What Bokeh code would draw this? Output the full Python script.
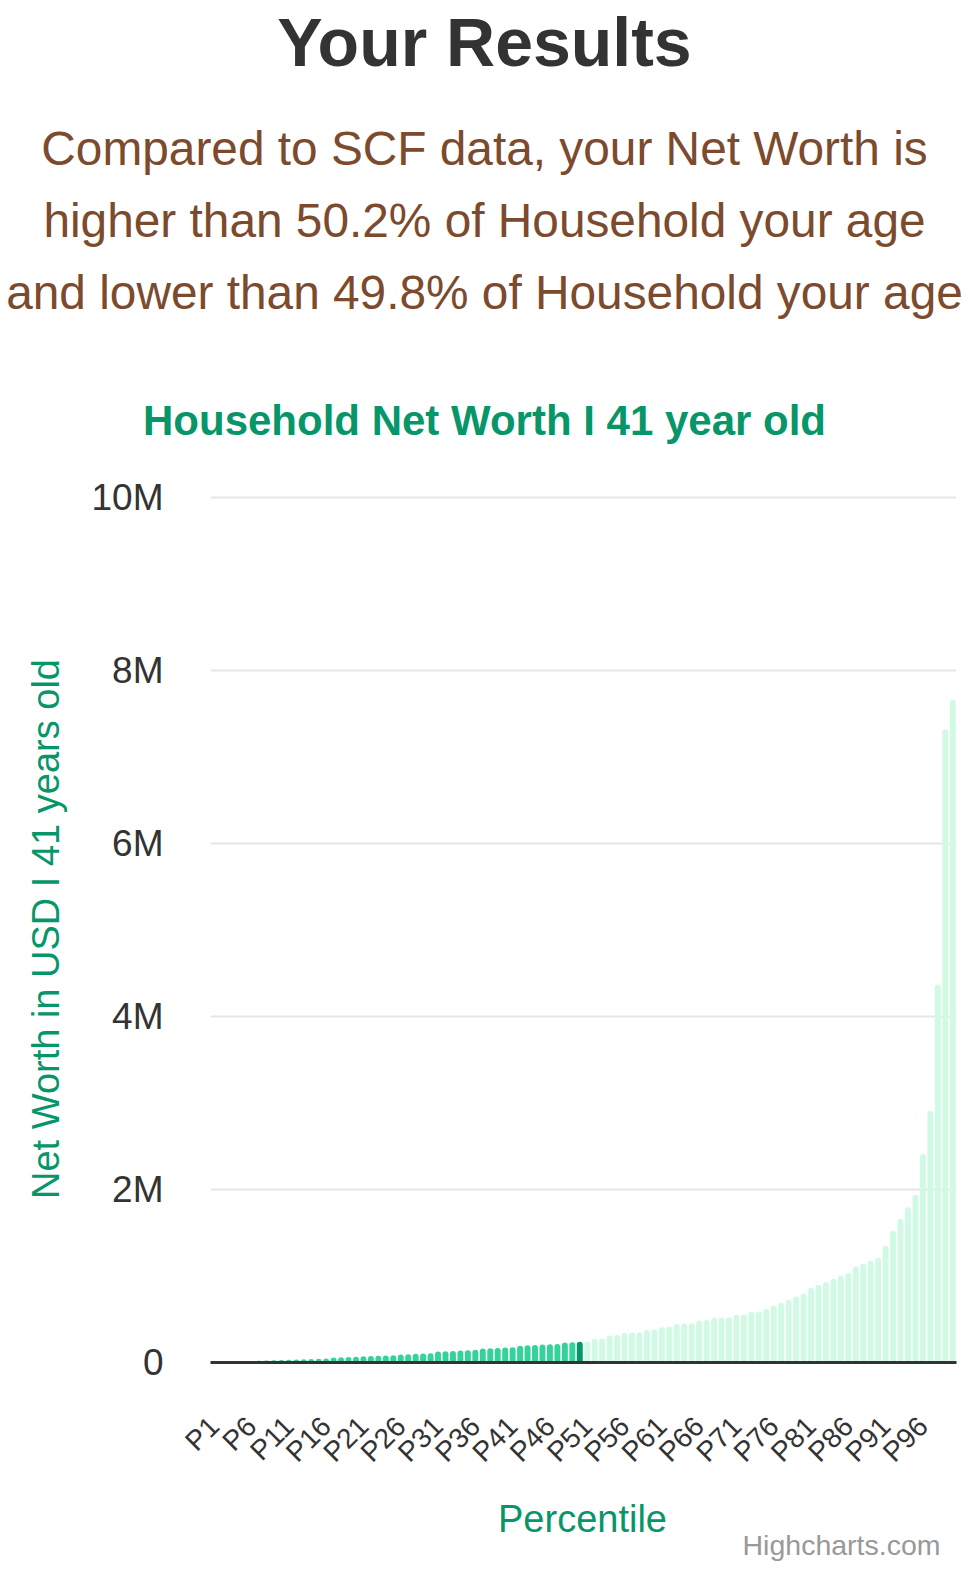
import math

from bokeh.embed import file_html
from bokeh.models import ColumnDataSource, FixedTicker, Label, Range1d
from bokeh.plotting import figure
from bokeh.resources import INLINE

# percentile categories and household net worth (USD) for a 41 year old
percentiles = ["P%d" % i for i in range(1, 101)]
net_worth = [
    0, 0, 0, 0, 0, 0,
    20000, 24000, 27000, 30000, 33000, 36000, 38000, 41000, 44000, 47000,
    58000, 61000, 64000, 67000, 71000, 75000, 78000, 82000, 85000,
    93000, 96000, 100000, 104000, 108000,
    126000, 130000, 134000, 138000, 142000, 146000,
    161000, 165000, 169000, 173000, 177000,
    195000, 199000, 203000, 207000, 211000, 215000,
    230000, 235000, 240000,
    245000, 272000, 277000, 312000, 318000, 343000, 347000, 350000, 378000, 382000,
    408000, 416000, 447000, 450000, 455000, 486000, 490000, 516000, 520000, 524000,
    551000, 555000, 586000, 590000, 621000, 655000, 690000, 724000, 763000, 794000,
    863000, 898000, 932000, 967000, 1002000, 1037000, 1106000, 1141000, 1175000, 1210000,
    1349000, 1522000, 1661000, 1796000, 1938000, 2410000, 2910000, 4370000, 7320000, 7660000,
]
user_percentile = 50
y_ticks = [0, 2000000, 4000000, 6000000, 8000000, 10000000]
y_tick_labels = ["0", "2M", "4M", "6M", "8M", "10M"]
label_every = 5

heading = "Your Results"
sub_lines = ["Compared to SCF data, your Net Worth is",
             "higher than 50.2% of Household your age",
             "and lower than 49.8% of Household your age"]
chart_title = "Household Net Worth I 41 year old"

FONT = "Liberation Sans"
GREEN = "#079669"
BROWN = "#7c4a2d"
W = 975


def blank(height, top):
    # plain canvas whose data coordinates are page pixels (y downwards)
    f = figure(width=W, height=height, x_range=Range1d(0, W), y_range=Range1d(top + height, top),
               x_axis_type=None, y_axis_type=None, output_backend="svg", toolbar_location=None,
               min_border=0)
    f.outline_line_color = None
    f.grid.grid_line_color = None
    return f


def text(fig, x, y, s, size, color, align="center", bold=False):
    fig.add_layout(Label(x=x, y=y, text=s, text_align=align, text_baseline="alphabetic",
                         text_font=FONT, text_font_size=size, text_color=color,
                         text_font_style="bold" if bold else "normal"))


# ---- headings
head = blank(470, 0)
text(head, 484, 41, heading, "68px", "#333333", bold=True)
for i, line in enumerate(sub_lines):
    text(head, 484, 148 + 72 * i, line, "47.8px", BROWN)
text(head, 484, 420, chart_title, "42px", GREEN, bold=True)

# ---- chart
x = list(range(1, len(percentiles) + 1))
colors = []
for i in x:
    if i < user_percentile:
        colors.append("#34d399")
    elif i == user_percentile:
        colors.append("#059669")
    else:
        colors.append("#d1fae5")

source = ColumnDataSource(data=dict(x=x, top=net_worth, label=percentiles, color=colors))

p = figure(frame_width=746, frame_height=867, output_backend="svg", toolbar_location=None,
           x_range=Range1d(0.5, len(percentiles) + 0.5), y_range=Range1d(0, 10023000),
           min_border_left=210, min_border_right=19, min_border_top=25, min_border_bottom=118)
p.outline_line_color = None

p.vbar(x="x", top="top", width=0.8, bottom=0, fill_color="color", line_color=None,
       border_radius=(3, 3, 0, 0), source=source)

p.yaxis.ticker = FixedTicker(ticks=y_ticks)
p.yaxis.major_label_overrides = dict(zip(y_ticks, y_tick_labels))
p.yaxis.axis_line_color = None
p.yaxis.major_tick_line_color = None
p.yaxis.major_tick_out = 0
p.yaxis.minor_tick_line_color = None
p.yaxis.major_label_text_font = FONT
p.yaxis.major_label_text_font_size = "37px"
p.yaxis.major_label_text_color = "#333333"
p.yaxis.major_label_standoff = 47
p.yaxis.axis_label = "Net Worth in USD I 41 years old"
p.yaxis.axis_label_text_font = FONT
p.yaxis.axis_label_text_font_size = "38px"
p.yaxis.axis_label_text_font_style = "normal"
p.yaxis.axis_label_text_color = GREEN
p.yaxis.axis_label_standoff = 22
p.ygrid.grid_line_color = "#e6e6e6"
p.ygrid.grid_line_width = 2
p.xgrid.grid_line_color = None

tick_pos = x[::label_every]
p.xaxis.ticker = FixedTicker(ticks=tick_pos)
p.xaxis.major_label_overrides = {t: percentiles[t - 1] for t in tick_pos}
p.xaxis.major_label_orientation = math.pi / 4
p.xaxis.axis_line_color = "#333333"
p.xaxis.axis_line_width = 3
p.xaxis.major_tick_line_color = None
p.xaxis.major_tick_out = 0
p.xaxis.minor_tick_line_color = None
p.xaxis.major_label_text_font = FONT
p.xaxis.major_label_text_font_size = "28px"
p.xaxis.major_label_text_color = "#333333"
p.xaxis.major_label_standoff = 59

# ---- axis title and credits
foot = blank(92, 1480)
text(foot, 582, 1517, "Percentile", "38px", GREEN)
text(foot, 940, 1543, "Highcharts.com", "28.5px", "#999999", align="right")

open("out.html", "w").write(file_html([head, p, foot], INLINE))
